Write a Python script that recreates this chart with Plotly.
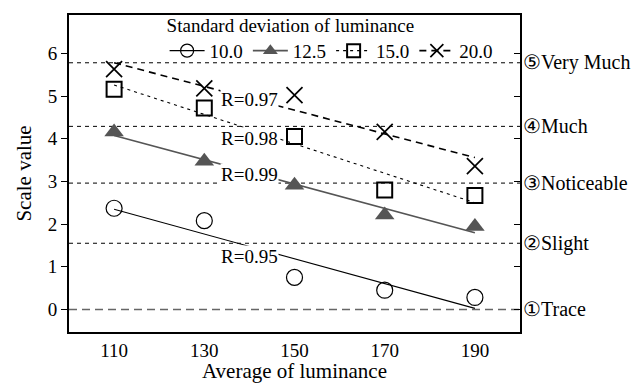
import numpy as np
import plotly.graph_objects as go

x_vals = [110, 130, 150, 170, 190]
sd_names = ["10.0", "12.5", "15.0", "20.0"]
y_10 = [2.37, 2.08, 0.75, 0.45, 0.28]
y_125 = [4.16, 3.47, 2.91, 2.21, 1.94]
y_15 = [5.16, 4.72, 4.05, 2.80, 2.67]
y_20 = [5.63, 5.18, 5.02, 4.16, 3.36]
r_labels = ["R=0.95", "R=0.99", "R=0.98", "R=0.97"]
r_label_x = [140, 140, 140, 140]
r_label_y = [1.23, 3.15, 4.01, 4.93]
level_vals = [0, 1.55, 2.96, 4.29, 5.78]
level_names = ["①Trace", "②Slight", "③Noticeable", "④Much", "⑤Very Much"]
x_ticks = [110, 130, 150, 170, 190]
y_ticks = [0, 1, 2, 3, 4, 5, 6]

FONT = "Liberation Serif, Times New Roman, serif"
FS = 19

series = [
    dict(y=y_10, sym="circle-open", msize=16, mline=1.2,
         lcolor="black", lwidth=1.1, dash="solid", mcolor="black"),
    dict(y=y_125, sym="triangle-up", msize=17, mline=0,
         lcolor="#555555", lwidth=1.6, dash="solid", mcolor="#555555"),
    dict(y=y_15, sym="square-open", msize=15, mline=2,
         lcolor="black", lwidth=1.1, dash="3px,4px", mcolor="black"),
    dict(y=y_20, sym="x-thin-open", msize=16, mline=1.7,
         lcolor="black", lwidth=1.6, dash="7px,5px", mcolor="black"),
]

fig = go.Figure()

# reference level lines
for v in level_vals:
    fig.add_trace(go.Scatter(
        x=[100, 200], y=[v, v], mode="lines", showlegend=False, hoverinfo="skip",
        line=dict(color="#666666" if v == 0 else "black",
                  width=1.5 if v == 0 else 1,
                  dash="8px,5px" if v == 0 else "4px,4px")))

# fit lines
for s in series:
    k, b = np.polyfit(x_vals, s["y"], 1)
    xf = [x_vals[0], x_vals[-1]]
    yf = [k * xx + b for xx in xf]
    fig.add_trace(go.Scatter(x=xf, y=yf, mode="lines", showlegend=False,
                             line=dict(color=s["lcolor"], width=s["lwidth"], dash=s["dash"])))

# markers
for s in series:
    fig.add_trace(go.Scatter(
        x=x_vals, y=s["y"], mode="markers", showlegend=False,
        marker=dict(symbol=s["sym"], size=s["msize"], color=s["mcolor"],
                    line=dict(color=s["mcolor"], width=s["mline"]))))

# legend entries
for name, s in zip(sd_names, series):
    fig.add_trace(go.Scatter(
        x=[None], y=[None], mode="lines+markers", name=name,
        line=dict(color=s["lcolor"], width=s["lwidth"], dash=s["dash"]),
        marker=dict(symbol=s["sym"], size=13, color=s["mcolor"],
                    line=dict(color=s["mcolor"], width=s["mline"]))))

# dummy for right axis
fig.add_trace(go.Scatter(x=[None], y=[None], yaxis="y2", showlegend=False))

annotations = []
for t, xx, yy in zip(r_labels, r_label_x, r_label_y):
    annotations.append(dict(x=xx, y=yy, text=t, showarrow=False, bgcolor="white",
                            font=dict(family=FONT, size=FS, color="black"),
                            xanchor="center", yanchor="middle", borderpad=0))
for t, v in zip(level_names, level_vals):
    annotations.append(dict(x=1.0, xref="paper", y=v, yref="y", text=t, showarrow=False,
                            xanchor="left", yanchor="middle", xshift=1,
                            font=dict(family=FONT, size=20, color="black")))

fig.update_layout(
    width=641, height=383,
    margin=dict(l=69, r=121, t=15, b=51, autoexpand=False),
    paper_bgcolor="white", plot_bgcolor="white",
    font=dict(family=FONT, size=FS, color="black"),
    showlegend=True,
    legend=dict(orientation="h", x=0.212, xanchor="left", y=1.025, yanchor="top",
                bgcolor="rgba(0,0,0,0)",
                title=dict(text="Standard deviation of luminance", side="top",
                           font=dict(family=FONT, size=FS)),
                font=dict(family=FONT, size=FS), itemwidth=35,
                tracegroupgap=0),
    xaxis=dict(range=[100, 200], tickvals=x_ticks, ticks="", showgrid=False, zeroline=False,
               showline=True, linecolor="black", linewidth=2, mirror=True, automargin=False,
               title=dict(text="Average of luminance", standoff=6,
                          font=dict(family=FONT, size=21)),
               tickfont=dict(family=FONT, size=FS)),
    yaxis=dict(range=[-0.53, 6.9], tickvals=y_ticks, ticks="outside", ticklen=6,
               tickcolor="black", tickwidth=1, showgrid=False, zeroline=False,
               showline=True, linecolor="black", linewidth=2, automargin=False,
               title=dict(text="Scale value", standoff=10, font=dict(family=FONT, size=21)),
               tickfont=dict(family=FONT, size=FS)),
    yaxis2=dict(range=[-0.53, 6.9], overlaying="y", side="right", tickvals=y_ticks,
                ticks="inside", ticklen=6, tickcolor="black", tickwidth=1,
                showticklabels=False, showgrid=False, zeroline=False, automargin=False,
                showline=True, linecolor="black", linewidth=2),
    annotations=annotations,
)

fig.write_html("out.html")
